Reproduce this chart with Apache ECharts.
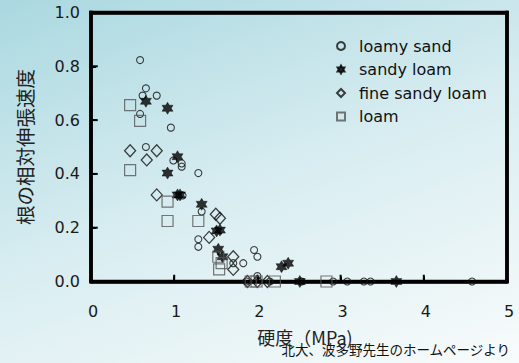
<!DOCTYPE html>
<html><head><meta charset="utf-8">
<script src="https://cdn.jsdelivr.net/npm/echarts@6/dist/echarts.min.js"></script>
<style>html,body{margin:0;padding:0;}#c{width:519px;height:363px;background:linear-gradient(160deg,#aad8e0 0%,#d8edf1 50%,#f8fbfb 100%);}</style>
</head><body><div id="c"></div>
<script>
const seriesNames = ['loamy sand', 'sandy loam', 'fine sandy loam', 'loam'];
const loamySand = [[0.59,0.823],[0.66,0.718],[0.62,0.691],[0.79,0.691],[0.59,0.623],[0.96,0.572],[0.66,0.50],[0.99,0.45],[1.09,0.439],[1.09,0.427],[1.29,0.403],[1.10,0.32],[1.33,0.26],[1.29,0.157],[1.29,0.129],[1.71,0.068],[1.83,0.068],[1.96,0.117],[2.0,0.092],[2.0,0.02],[1.87,0],[2.15,0],[2.53,0],[2.91,0],[3.08,0],[3.28,0],[3.36,0],[4.58,0]];
const sandyLoam = [[0.66,0.67],[0.92,0.644],[1.04,0.464],[0.92,0.403],[1.04,0.322],[1.07,0.322],[1.33,0.287],[1.51,0.188],[1.55,0.191],[1.53,0.12],[1.58,0.092],[2.29,0.055],[2.37,0.068],[2.51,0],[3.67,0]];
const fineSandyLoam = [[0.47,0.486],[0.79,0.486],[0.67,0.452],[0.79,0.322],[1.50,0.25],[1.55,0.235],[1.42,0.164],[1.71,0.092],[1.71,0.045],[1.88,0],[2.0,0],[2.12,0]];
const loam = [[0.47,0.656],[0.59,0.597],[0.47,0.414],[0.92,0.297],[0.92,0.225],[1.29,0.225],[1.53,0.092],[1.57,0.068],[1.54,0.045],[1.92,0],[1.99,0],[2.21,0],[2.83,0]];
const xTicks = [0, 1, 2, 3, 4, 5];
const yTicks = [0.0, 0.2, 0.4, 0.6, 0.8, 1.0];

const star = 'path://M0,-1L0.2887,-0.5L0.866,-0.5L0.5774,0L0.866,0.5L0.2887,0.5L0,1L-0.2887,0.5L-0.866,0.5L-0.5774,0L-0.866,-0.5L-0.2887,-0.5Z';
const chart = echarts.init(document.getElementById('c'), null, {renderer: 'svg'});
const tickFont = {fontFamily: 'DejaVu Sans', fontSize: 16, color: '#1a1a1a'};
const frameLine = () => ({show: true, onZero: false, lineStyle: {color: '#000000', width: 3.5}});

function renderFrame(params, api) {
  const lw = 3.5, tl = 5, tw = 2;
  const p0 = api.coord([xTicks[0], yTicks[0]]);
  const p1 = api.coord([xTicks[xTicks.length - 1], yTicks[yTicks.length - 1]]);
  const xa = p0[0], ya = p0[1], xb = p1[0], yb = p1[1];
  const st = {fill: '#000000'};
  const kids = [
    {type: 'rect', shape: {x: xa - lw / 2, y: yb - lw / 2, width: xb - xa + lw, height: lw}, style: st},
    {type: 'rect', shape: {x: xa - lw / 2, y: ya - lw / 2, width: xb - xa + lw, height: lw}, style: st},
    {type: 'rect', shape: {x: xa - lw / 2, y: yb - lw / 2, width: lw, height: ya - yb + lw}, style: st},
    {type: 'rect', shape: {x: xb - lw / 2, y: yb - lw / 2, width: lw, height: ya - yb + lw}, style: st}
  ];
  xTicks.slice(1, -1).forEach(v => {
    const x = api.coord([v, yTicks[0]])[0];
    kids.push({type: 'rect', shape: {x: x - tw / 2, y: ya - lw / 2 - tl, width: tw, height: tl}, style: st});
  });
  yTicks.slice(1, -1).forEach(v => {
    const y = api.coord([xTicks[0], v])[1];
    kids.push({type: 'rect', shape: {x: xa + lw / 2, y: y - tw / 2, width: tl, height: tw}, style: st});
  });
  return {type: 'group', children: kids};
}

chart.setOption({
  animation: false,
  backgroundColor: 'transparent',
  grid: {left: 91, right: 12, top: 12.5, bottom: 81.5},
  legend: {
    orient: 'vertical', left: 331, top: 32, itemWidth: 8, itemHeight: 8, itemGap: 5.5,
    data: seriesNames,
    textStyle: {fontFamily: 'DejaVu Sans', fontSize: 16, color: '#111', lineHeight: 18, padding: [0, 0, 0, 9]}
  },
  xAxis: [{
    type: 'value', min: xTicks[0], max: xTicks[xTicks.length - 1], interval: 1,
    name: '硬度（MPa)', nameLocation: 'middle', nameGap: 46,
    nameTextStyle: {fontFamily: 'Noto Sans CJK JP', fontSize: 18, color: '#222', padding: [0, 0, 0, 12]},
    axisLine: frameLine(), splitLine: {show: false},
    axisTick: {show: true, inside: true, length: 5, lineStyle: {color: '#000000', width: 2}},
    axisLabel: Object.assign({margin: 22, padding: [0, 0, 0, 4], formatter: v => xTicks.includes(v) ? String(v) : ''}, tickFont)
  }, {
    type: 'value', min: xTicks[0], max: xTicks[xTicks.length - 1], position: 'top',
    axisLine: frameLine(), axisTick: {show: false}, axisLabel: {show: false}, splitLine: {show: false}
  }],
  yAxis: [{
    type: 'value', min: yTicks[0], max: yTicks[yTicks.length - 1], interval: 0.2,
    name: '根の相対伸張速度', nameLocation: 'middle', nameGap: 57, nameRotate: 90,
    nameTextStyle: {fontFamily: 'Noto Sans CJK JP', fontSize: 19.5, color: '#222'},
    axisLine: frameLine(), splitLine: {show: false},
    axisTick: {show: true, inside: true, length: 5, lineStyle: {color: '#000000', width: 2}},
    axisLabel: Object.assign({margin: 11, padding: [13, 0, 0, 0], formatter: v => {
      const t = yTicks.find(k => Math.abs(k - v) < 1e-6); return t === undefined ? '' : t.toFixed(1);
    }}, tickFont)
  }, {
    type: 'value', min: yTicks[0], max: yTicks[yTicks.length - 1], position: 'right',
    axisLine: frameLine(), axisTick: {show: false}, axisLabel: {show: false}, splitLine: {show: false}
  }],
  graphic: [{type: 'text', right: 8, top: 342, style: {text: '北大、波多野先生のホームページより', fontFamily: 'Noto Sans CJK JP', fontSize: 13.5, fill: '#111'}}],
  series: [
    {name: 'frame', type: 'custom', data: [[xTicks[0], yTicks[0]]], renderItem: renderFrame, clip: false, silent: true, z: 4},
    {name: seriesNames[0], type: 'scatter', data: loamySand, symbol: 'circle', symbolSize: 7, clip: false, z: 5,
     itemStyle: {color: 'rgba(255,255,255,0)', borderColor: '#111', borderWidth: 1.1}},
    {name: seriesNames[1], type: 'scatter', data: sandyLoam, symbol: star, symbolSize: [11, 12], clip: false, z: 5,
     itemStyle: {color: '#000', borderColor: '#000', borderWidth: 0.5}},
    {name: seriesNames[2], type: 'scatter', data: fineSandyLoam, symbol: 'diamond', symbolSize: [11, 12], clip: false, z: 5,
     itemStyle: {color: 'rgba(255,255,255,0)', borderColor: '#111', borderWidth: 1.3}},
    {name: seriesNames[3], type: 'scatter', data: loam, symbol: 'rect', symbolSize: 11, clip: false, z: 5,
     itemStyle: {color: 'rgba(255,255,255,0)', borderColor: '#555', borderWidth: 1.2}}
  ]
});
</script></body></html>
